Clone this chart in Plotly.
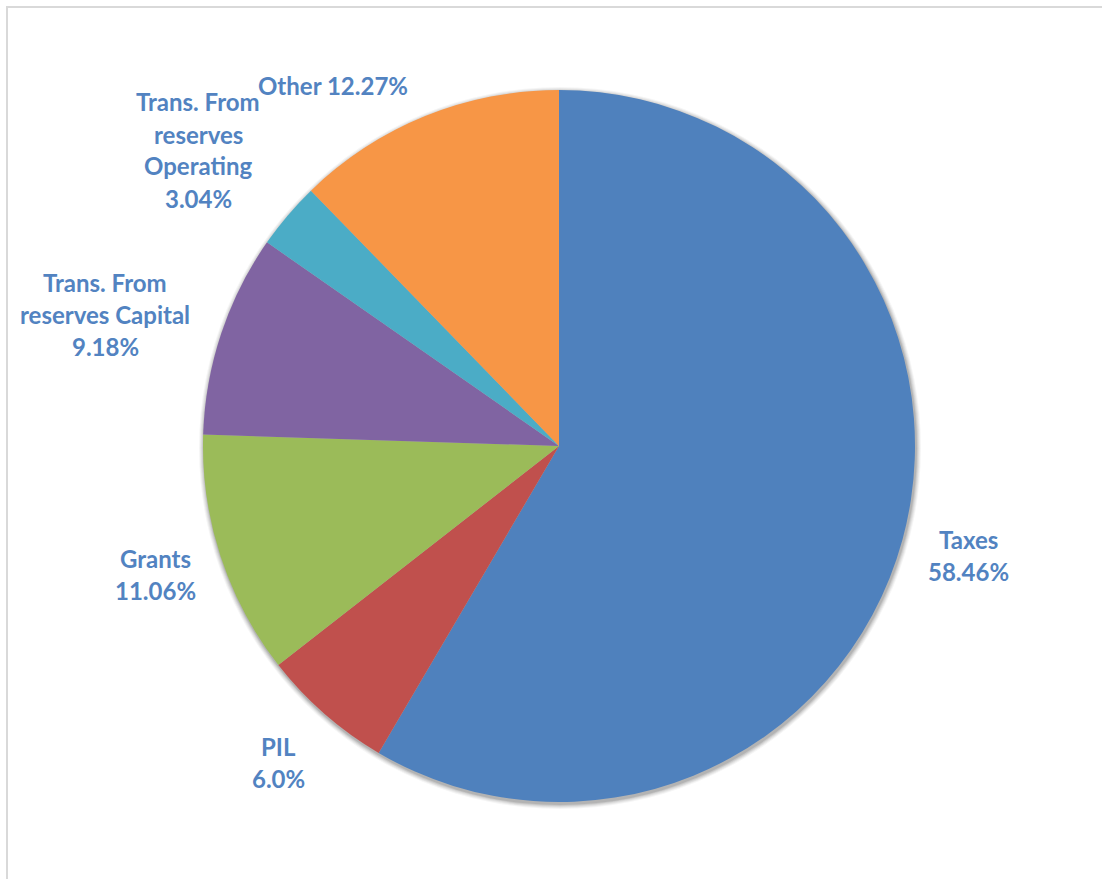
import plotly.graph_objects as go

# Revenue sources, in the order drawn clockwise from 12 o'clock
categories = ["Taxes", "PIL", "Grants", "Trans. From reserves Capital",
              "Trans. From reserves Operating", "Other"]
shares = [58.46, 6.0, 11.06, 9.18, 3.04, 12.27]
label_lines = [
    ["Taxes", "{v}%"],
    ["PIL", "{v}%"],
    ["Grants", "{v}%"],
    ["Trans. From", "reserves Capital", "{v}%"],
    ["Trans. From", "reserves", "Operating", "{v}%"],
    ["Other {v}%"],
]
colors = ["#4F81BD", "#C0504D", "#9BBB59", "#8064A2", "#4BACC6", "#F79646"]

W, H = 1102, 879
cx, cy, r = 559, 446, 356

# label anchor (centre x, first-line y) in pixels
label_pos = [(968, 539), (278, 746), (155, 558), (105, 282), (198, 102), (333, 85)]
line_gap = 32

fig = go.Figure(go.Pie(
    labels=categories,
    values=shares,
    sort=False,
    direction="clockwise",
    rotation=0,
    marker=dict(colors=colors, line=dict(width=0)),
    textinfo="none",
    hoverinfo="label+percent",
    showlegend=False,
    domain=dict(x=[(cx - r) / W, (cx + r) / W],
                y=[1 - (cy + r) / H, 1 - (cy - r) / H]),
))

annotations = []
for lines, v, (lx, ly) in zip(label_lines, shares, label_pos):
    for i, line in enumerate(lines):
        annotations.append(dict(
            text="<b>" + line.format(v=v) + "</b>",
            x=lx / W, y=1 - (ly + i * line_gap) / H,
            xref="paper", yref="paper",
            xanchor="center", yanchor="middle",
            showarrow=False,
            font=dict(family="Lato", size=24, color="#5283C1"),
        ))

# chart frame
shapes = [dict(type="rect", xref="paper", yref="paper",
               x0=7 / W, x1=1.05, y0=-0.05, y1=1 - 7 / H,
               line=dict(color="#D9D9D9", width=2), layer="below")]

# soft drop shadow under the pie
for k, op in [(5, 0.04), (4, 0.05), (3, 0.06), (2, 0.08), (1, 0.10)]:
    sx, sy, rr = cx + 1, cy + 2, r + k
    shapes.append(dict(type="circle", xref="paper", yref="paper",
                       x0=(sx - rr) / W, x1=(sx + rr) / W,
                       y0=1 - (sy + rr) / H, y1=1 - (sy - rr) / H,
                       fillcolor="black", opacity=op,
                       line=dict(width=0), layer="below"))

fig.update_layout(
    width=W, height=H,
    margin=dict(l=0, r=0, t=0, b=0),
    paper_bgcolor="white",
    plot_bgcolor="white",
    annotations=annotations,
    shapes=shapes,
)

fig.write_html("out.html")
